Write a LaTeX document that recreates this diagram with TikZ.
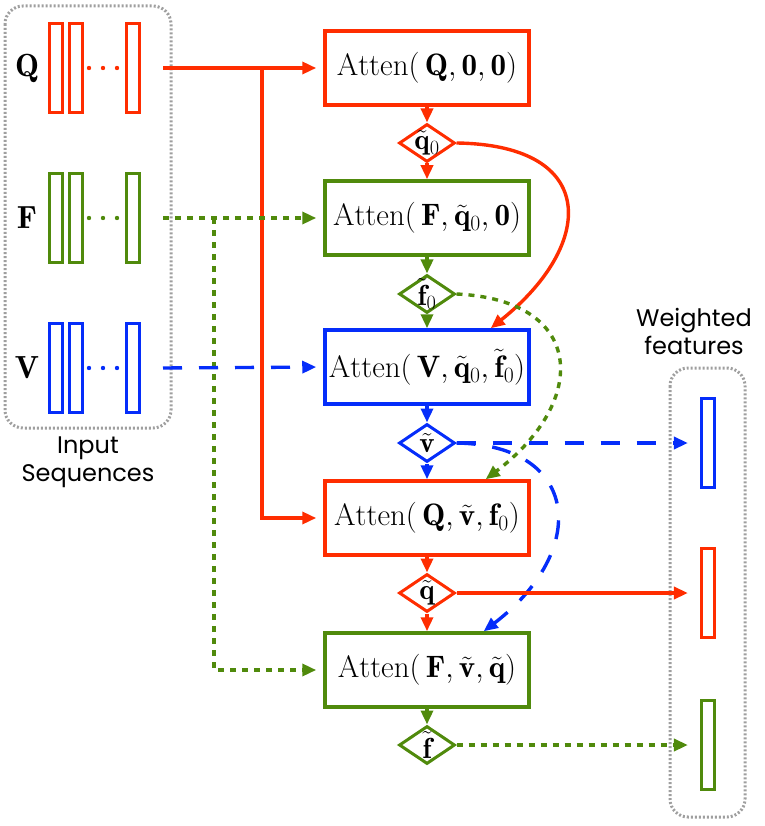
\RequirePackage{fix-cm}
\documentclass[tikz,border=0pt]{standalone}
\usepackage{fontspec}
\setsansfont{Poppins}
\usetikzlibrary{shapes.geometric,arrows.meta}

\definecolor{qred}{RGB}{255,45,0}
\definecolor{fgreen}{RGB}{80,138,12}
\definecolor{vblue}{RGB}{5,45,250}

\tikzset{
  box/.style={draw, line width=3.5pt, minimum width=204pt, minimum height=74pt, inner sep=0pt, font=\fontsize{31}{36}\selectfont},
  gate/.style={draw, diamond, line width=3pt, minimum width=56pt, minimum height=38pt, inner sep=-9pt, font=\fontsize{29}{34}\selectfont},
  vec/.style={draw, line width=3.2pt, minimum width=13pt, minimum height=89pt, inner sep=0pt},
  flow/.style={line width=3.4pt, -{Triangle[length=14pt,width=12pt]}},
  dotflow/.style={flow, dash pattern=on 6pt off 6pt},
  dashflow/.style={flow, dash pattern=on 19pt off 17pt},
  group/.style={draw=gray!75, line width=3pt, dash pattern=on 2pt off 2pt, rounded corners=18pt},
  grouptext/.style={font=\sffamily\fontsize{24}{28}\selectfont, align=center},
  lbl/.style={font=\fontsize{32}{36}\selectfont}
}

\begin{document}
\begin{tikzpicture}[x=1pt,y=-1pt]
  \useasboundingbox (0,0) rectangle (764,826);

  % input sequences
  \draw[group] (5,6) rectangle (171,428);
  \node[grouptext] (intxt) at (88,462) {Input\\Sequences};
  \foreach \n/\N/\y/\c in {q/Q/68/qred, f/F/218/fgreen, v/V/368/vblue} {
    \node[lbl] (\n lab) at (27,\y) {$\mathbf{\N}$};
    \node[vec,draw=\c] (\n1) at (56,\y) {};
    \node[vec,draw=\c] (\n2) at (76,\y) {};
    \node[vec,draw=\c] (\n3) at (133,\y) {};
    \foreach \x in {89,103,117}
      \fill[\c] (\x,\y) circle (2.2pt);
    \coordinate (\n out) at (163,\y);
  }
  \coordinate (qj) at (262,68);
  \coordinate (fj) at (214,218);

  % attention steps
  \node[box,draw=qred] (b1) at (427,68) {$\mathrm{Atten}(\,\mathbf{Q},\mathbf{0},\mathbf{0})$};
  \node[gate,draw=qred] (d1) at (427,143) {$\tilde{\mathbf{q}}_0$};
  \node[box,draw=fgreen] (b2) at (427,218) {$\mathrm{Atten}(\,\mathbf{F},\tilde{\mathbf{q}}_0,\mathbf{0})$};
  \node[gate,draw=fgreen] (d2) at (427,294) {$\tilde{\mathbf{f}}_0$};
  \node[box,draw=vblue] (b3) at (427,367) {$\mathrm{Atten}(\,\mathbf{V},\tilde{\mathbf{q}}_0,\tilde{\mathbf{f}}_0)$};
  \node[gate,draw=vblue] (d3) at (427,443) {$\tilde{\mathbf{v}}$};
  \node[box,draw=qred] (b4) at (427,518) {$\mathrm{Atten}(\,\mathbf{Q},\tilde{\mathbf{v}},\mathbf{f}_0)$};
  \node[gate,draw=qred] (d4) at (427,593) {$\tilde{\mathbf{q}}$};
  \node[box,draw=fgreen] (b5) at (427,670) {$\mathrm{Atten}(\,\mathbf{F},\tilde{\mathbf{v}},\tilde{\mathbf{q}})$};
  \node[gate,draw=fgreen] (d5) at (427,745) {$\tilde{\mathbf{f}}$};

  % weighted features
  \draw[group] (670,368) rectangle (745,817);
  \node[grouptext] (wtxt) at (694,331) {Weighted\\features};
  \node[vec,draw=vblue] (w1) at (708,443) {};
  \node[vec,draw=qred] (w2) at (708,593) {};
  \node[vec,draw=fgreen] (w3) at (708,745) {};

  % inputs
  \draw[flow,qred,shorten >=7pt] (qout) -- (b1.west);
  \draw[flow,qred,shorten >=7pt] (qj) |- (b4.west);
  \draw[dotflow,fgreen,shorten >=7pt] (fout) -- (b2.west);
  \draw[dotflow,fgreen,shorten >=7pt] (fj) |- (b5.west);
  \draw[dashflow,vblue,shorten >=7pt] (vout) -- (b3.west);

  % chain
  \draw[flow,qred] (b1) -- (d1);
  \draw[flow,qred] (d1) -- (b2);
  \draw[flow,fgreen] (b2) -- (d2);
  \draw[flow,fgreen] (d2) -- (b3);
  \draw[flow,vblue] (b3) -- (d3);
  \draw[flow,vblue] (d3) -- (b4);
  \draw[flow,qred] (b4) -- (d4);
  \draw[flow,qred] (d4) -- (b5);
  \draw[flow,fgreen] (b5) -- (d5);

  % skips
  \draw[flow,qred] (d1.east) .. controls (600,145) and (595,245) .. ([xshift=-40pt]b3.north east);
  \draw[dotflow,fgreen] (d2.east) .. controls (585,300) and (590,400) .. ([xshift=-45pt]b4.north east);
  \draw[dashflow,vblue] (d3.east) .. controls (580,445) and (590,550) .. ([xshift=-47pt]b5.north east);

  % outputs
  \draw[dashflow,vblue,shorten >=12pt] (d3.east) -- (w1.west);
  \draw[flow,qred,shorten >=12pt] (d4.east) -- (w2.west);
  \draw[dotflow,fgreen,shorten >=12pt] (d5.east) -- (w3.west);
\end{tikzpicture}
\end{document}
